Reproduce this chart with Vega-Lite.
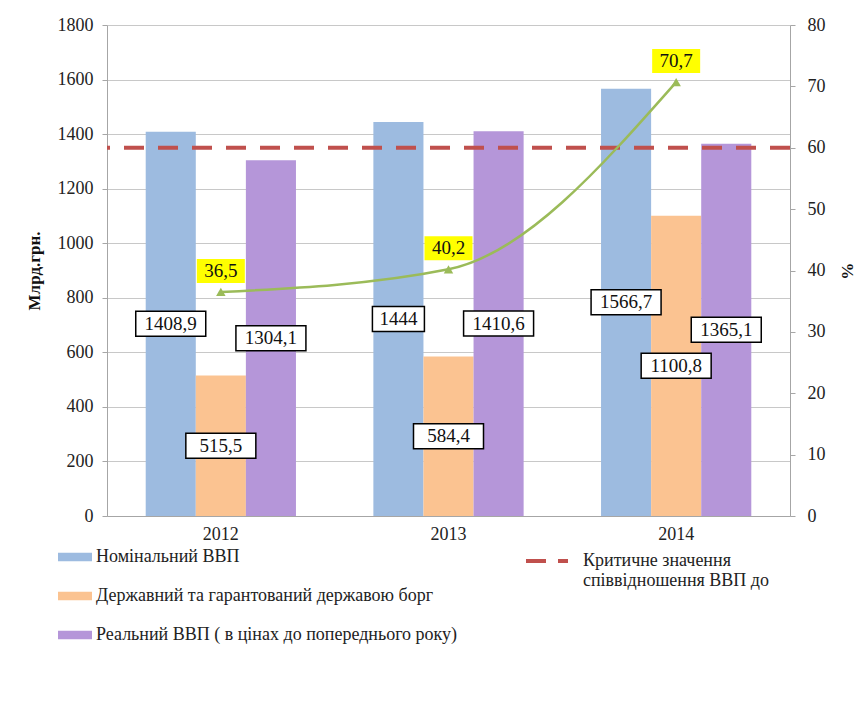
{
  "$schema": "https://vega.github.io/schema/vega-lite/v6.json",
  "width": 683,
  "height": 491,
  "autosize": {"type": "none"},
  "padding": {"left": 107, "top": 25, "right": 71, "bottom": 190},
  "background": "white",
  "config": {
    "locale": {"number": {"decimal": ",", "thousands": "", "grouping": [3], "currency": ["", ""]}},
    "font": "Liberation Serif",
    "axis": {"labelFont": "Liberation Serif", "titleFont": "Liberation Serif"},
    "legend": {"labelFont": "Liberation Serif", "titleFont": "Liberation Serif"},
    "text": {"font": "Liberation Serif"},
    "view": {"stroke": null}
  },
  "datasets": {
    "bars": [
      {"year": "2012", "series": "Номінальний ВВП", "value": 1408.9},
      {"year": "2012", "series": "Державний та гарантований державою борг", "value": 515.5},
      {"year": "2012", "series": "Реальний ВВП ( в цінах до попереднього року)", "value": 1304.1},
      {"year": "2013", "series": "Номінальний ВВП", "value": 1444},
      {"year": "2013", "series": "Державний та гарантований державою борг", "value": 584.4},
      {"year": "2013", "series": "Реальний ВВП ( в цінах до попереднього року)", "value": 1410.6},
      {"year": "2014", "series": "Номінальний ВВП", "value": 1566.7},
      {"year": "2014", "series": "Державний та гарантований державою борг", "value": 1100.8},
      {"year": "2014", "series": "Реальний ВВП ( в цінах до попереднього року)", "value": 1365.1}
    ],
    "ratio": [
      {"year": "2012", "value": 36.5},
      {"year": "2013", "value": 40.2},
      {"year": "2014", "value": 70.7}
    ],
    "crit": [
      {"name": "Критичне значення|співвідношення  ВВП до", "value": 60}
    ]
  },
  "resolve": {"scale": {"y": "independent"}},
  "layer": [
    {
      "data": {"name": "bars"},
      "mark": {"type": "bar"},
      "encoding": {
        "x": {
          "field": "year", "type": "nominal",
          "scale": {"paddingInner": 0.34, "paddingOuter": 0.17},
          "axis": {"title": null, "labelAngle": 0, "labelFontSize": 18, "labelColor": "#222", "ticks": false, "domainColor": "#a6a6a6", "labelPadding": 9}
        },
        "xOffset": {"field": "series", "type": "nominal", "sort": ["Номінальний ВВП", "Державний та гарантований державою борг", "Реальний ВВП ( в цінах до попереднього року)"]},
        "y": {
          "field": "value", "type": "quantitative",
          "scale": {"domain": [0, 1800]},
          "axis": {"title": "Млрд.грн.", "titleFontSize": 17, "titleFontWeight": "bold", "titleColor": "#111", "titlePadding": 14,
                   "values": [0, 200, 400, 600, 800, 1000, 1200, 1400, 1600, 1800],
                   "labelFontSize": 18, "labelColor": "#222", "labelPadding": 9, "tickSize": 5, "tickColor": "#a6a6a6",
                   "domainColor": "#a6a6a6", "grid": true, "gridColor": "#c8c8c8"}
        },
        "fill": {
          "field": "series", "type": "nominal",
          "scale": {
            "domain": ["Номінальний ВВП", "Державний та гарантований державою борг", "Реальний ВВП ( в цінах до попереднього року)"],
            "range": ["#9dbbe0", "#fbc391", "#b596d9"]
          },
          "legend": {
            "title": null, "orient": "none", "legendX": -49, "legendY": 515, "direction": "vertical",
            "symbolType": "M-1,-0.25L1,-0.25L1,0.25L-1,0.25Z", "symbolSize": 1156, "symbolStrokeWidth": 0,
            "labelFontSize": 18, "labelColor": "#222", "labelLimit": 600, "labelOffset": 4, "rowPadding": 13
          }
        }
      }
    },
    {
      "data": {"name": "bars"},
      "encoding": {
        "x": {"field": "year", "type": "nominal"},
        "xOffset": {"field": "series", "type": "nominal", "sort": ["Номінальний ВВП", "Державний та гарантований державою борг", "Реальний ВВП ( в цінах до попереднього року)"]},
        "y": {"field": "value", "type": "quantitative", "scale": {"domain": [0, 3600]}, "axis": null}
      },
      "layer": [
        {
          "mark": {"type": "point", "fill": "white", "fillOpacity": 1, "stroke": "black", "strokeWidth": 1.5, "opacity": 1, "size": 625},
          "encoding": {
            "shape": {
              "condition": {"test": "length(format(datum.value, '.1~f')) <= 4", "value": "M-2.08,-1L2.08,-1L2.08,1L-2.08,1Z"},
              "value": "M-2.8,-1L2.8,-1L2.8,1L-2.8,1Z"
            }
          }
        },
        {
          "mark": {"type": "text", "font": "Liberation Serif", "fontSize": 19, "color": "#111"},
          "encoding": {"text": {"field": "value", "type": "quantitative", "format": ".1~f"}}
        }
      ]
    },
    {
      "layer": [
        {
          "data": {"name": "crit"},
          "mark": {"type": "rule", "strokeWidth": 4, "strokeDash": [20, 14]},
          "encoding": {
            "y": {"field": "value", "type": "quantitative", "scale": {"domain": [0, 80]},
                  "axis": {"orient": "right", "title": "%", "titleFontSize": 17, "titleFontWeight": "bold", "titleColor": "#111", "titlePadding": 12,
                           "values": [0, 10, 20, 30, 40, 50, 60, 70, 80],
                           "labelFontSize": 18, "labelColor": "#222", "labelPadding": 12, "tickSize": 5, "tickColor": "#a6a6a6",
                           "domainColor": "#a6a6a6", "grid": false}},
            "stroke": {
              "field": "name", "type": "nominal",
              "scale": {"range": ["#c0504d"]},
              "legend": {
                "title": null, "orient": "none", "legendX": 417, "legendY": 513,
                "symbolType": "stroke", "symbolSize": 1764, "symbolStrokeWidth": 4, "symbolDash": [20, 12],
                "labelFontSize": 18, "labelColor": "#222", "labelLimit": 600, "labelOffset": 13,
                "labelExpr": "split(datum.label, '|')", "labelBaseline": "middle"
              }
            }
          }
        },
        {
          "data": {"name": "ratio"},
          "mark": {"type": "line", "interpolate": "monotone", "color": "#9bbb59", "strokeWidth": 2.5},
          "encoding": {
            "x": {"field": "year", "type": "nominal"},
            "y": {"field": "value", "type": "quantitative"}
          }
        },
        {
          "data": {"name": "ratio"},
          "mark": {"type": "point", "shape": "triangle-up", "filled": true, "color": "#9bbb59", "size": 90, "opacity": 1},
          "encoding": {
            "x": {"field": "year", "type": "nominal"},
            "y": {"field": "value", "type": "quantitative"}
          }
        },
        {
          "data": {"name": "ratio"},
          "mark": {"type": "point", "shape": "M-2,-1L2,-1L2,1L-2,1Z", "filled": true, "color": "#ffff00", "size": 576, "opacity": 1, "yOffset": -21},
          "encoding": {
            "x": {"field": "year", "type": "nominal"},
            "y": {"field": "value", "type": "quantitative"}
          }
        },
        {
          "data": {"name": "ratio"},
          "mark": {"type": "text", "font": "Liberation Serif", "fontSize": 19, "color": "#111", "dy": -21},
          "encoding": {
            "x": {"field": "year", "type": "nominal"},
            "y": {"field": "value", "type": "quantitative"},
            "text": {"field": "value", "type": "quantitative", "format": ".1f"}
          }
        }
      ]
    }
  ]
}
